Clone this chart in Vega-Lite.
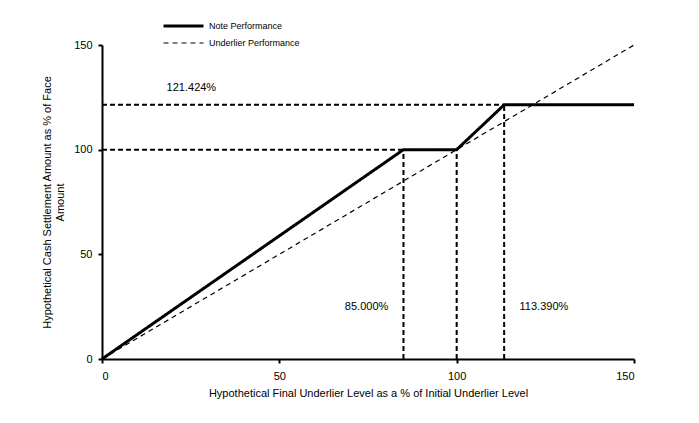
{
  "$schema": "https://vega.github.io/schema/vega-lite/v6.json",
  "autosize": {"type": "none"},
  "padding": {"left": 102, "top": 45, "right": 65, "bottom": 64},
  "width": 532,
  "height": 314,
  "background": "white",
  "datasets": {
    "lines": [
      {"series": "Note Performance", "x": 0, "y": 0, "order": 1},
      {"series": "Note Performance", "x": 85, "y": 100, "order": 2},
      {"series": "Note Performance", "x": 100, "y": 100, "order": 3},
      {"series": "Note Performance", "x": 113.39, "y": 121.424, "order": 4},
      {"series": "Note Performance", "x": 150, "y": 121.424, "order": 5},
      {"series": "Underlier Performance", "x": 0, "y": 0, "order": 1},
      {"series": "Underlier Performance", "x": 150, "y": 150, "order": 2}
    ],
    "refs": [
      {"x": 0, "y": 100, "x2": 85, "y2": 100},
      {"x": 0, "y": 121.424, "x2": 113.39, "y2": 121.424},
      {"x": 85, "y": 0, "x2": 85, "y2": 100},
      {"x": 100, "y": 0, "x2": 100, "y2": 100},
      {"x": 113.39, "y": 0, "x2": 113.39, "y2": 121.424}
    ],
    "labels": [
      {"x": 25.2, "y": 129.4, "label": "121.424%"},
      {"x": 74.6, "y": 25, "label": "85.000%"},
      {"x": 124.6, "y": 25, "label": "113.390%"}
    ]
  },
  "layer": [
    {
      "data": {"name": "refs"},
      "mark": {"type": "rule", "color": "black", "strokeWidth": 2, "strokeDash": [5, 3]},
      "encoding": {
        "x": {"field": "x", "type": "quantitative"},
        "y": {"field": "y", "type": "quantitative"},
        "x2": {"field": "x2"},
        "y2": {"field": "y2"}
      }
    },
    {
      "data": {"name": "lines"},
      "mark": {"type": "line", "color": "black", "strokeJoin": "miter"},
      "encoding": {
        "x": {
          "field": "x",
          "type": "quantitative",
          "scale": {"domain": [0, 150], "nice": false},
          "title": "Hypothetical Final Underlier Level as a % of Initial Underlier Level",
          "axis": {"values": [0, 50, 100, 150]}
        },
        "y": {
          "field": "y",
          "type": "quantitative",
          "scale": {"domain": [0, 150], "nice": false},
          "title": ["Hypothetical Cash Settlement Amount as % of Face", "Amount"],
          "axis": {"values": [0, 50, 100, 150]}
        },
        "order": {"field": "order"},
        "detail": {"field": "series"},
        "strokeDash": {
          "field": "series",
          "type": "nominal",
          "scale": {"domain": ["Note Performance", "Underlier Performance"], "range": [[1, 0], [5, 4]]},
          "legend": {"title": null}
        },
        "strokeWidth": {
          "field": "series",
          "type": "nominal",
          "scale": {"domain": ["Note Performance", "Underlier Performance"], "range": [3, 1.2]},
          "legend": {"title": null}
        }
      }
    },
    {
      "data": {"name": "labels"},
      "mark": {"type": "text", "font": "Liberation Sans", "fontSize": 11, "color": "black", "align": "center", "baseline": "middle"},
      "encoding": {
        "x": {"field": "x", "type": "quantitative"},
        "y": {"field": "y", "type": "quantitative"},
        "text": {"field": "label"}
      }
    }
  ],
  "config": {
    "view": {"stroke": null},
    "font": "Liberation Sans",
    "axis": {
      "grid": false,
      "domainColor": "black",
      "domainWidth": 2,
      "tickColor": "black",
      "tickWidth": 2,
      "tickSize": 4,
      "labelColor": "black",
      "labelFontSize": 11,
      "labelFont": "Liberation Sans",
      "titleColor": "black",
      "titleFontSize": 11,
      "titleFont": "Liberation Sans",
      "titleFontWeight": "normal"
    },
    "axisX": {"labelPadding": 7, "titlePadding": 6},
    "axisY": {"labelPadding": 6, "titlePadding": 8, "titleLineHeight": 13},
    "legend": {
      "orient": "none",
      "legendX": 60,
      "legendY": -24.5,
      "symbolType": "stroke",
      "symbolSize": 1600,
      "clipHeight": 11,
      "symbolStrokeColor": "black",
      "labelFontSize": 9,
      "labelFont": "Liberation Sans",
      "labelColor": "black",
      "rowPadding": 6,
      "labelOffset": 4
    }
  }
}
